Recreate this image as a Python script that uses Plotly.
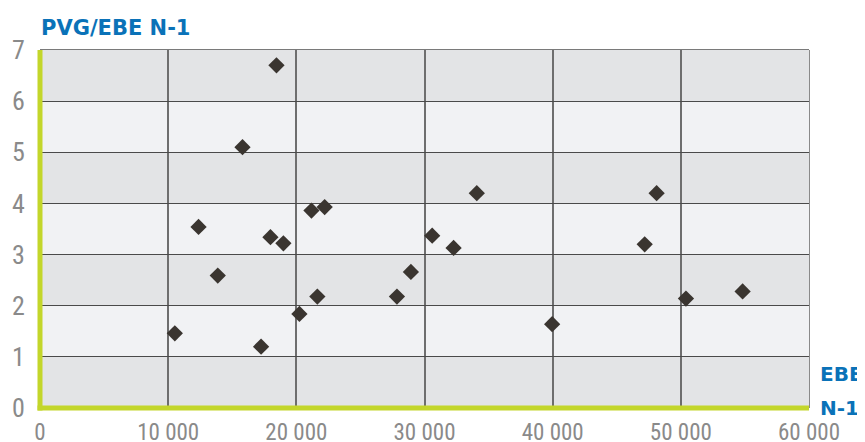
import plotly.graph_objects as go

ebe = [15800, 18450, 21180, 22210, 12370, 17980, 18990, 13870, 21640, 20240,
       10520, 17250, 34080, 30600, 32270, 28940, 27850, 39960, 48110, 47180,
       50400, 54820]
pvg_ebe = [5.10, 6.70, 3.86, 3.93, 3.54, 3.34, 3.22, 2.59, 2.18, 1.84,
           1.46, 1.20, 4.20, 3.37, 3.13, 2.66, 2.18, 1.64, 4.20, 3.20,
           2.14, 2.28]

x_ticks = [0, 10000, 20000, 30000, 40000, 50000, 60000]
y_ticks = [0, 1, 2, 3, 4, 5, 6, 7]

BLUE = "#0a72b8"
GREEN = "#c3d62b"
TICK = "#8a8a8a"
FONT = "Roboto Condensed, Liberation Sans Narrow, DejaVu Sans Condensed, sans-serif"
TFONT = "DejaVu Sans, Liberation Sans, Arial, sans-serif"

W, H = 857, 434
ML, MR, MT, MB = 32, 56, 42, 34
PW, PH = W - ML - MR, H - MT - MB

fig = go.Figure()
fig.add_trace(go.Scatter(
    x=ebe, y=pvg_ebe, mode="markers",
    marker=dict(symbol="diamond", size=12.5, color="#3a3530"),
    hoverinfo="x+y", showlegend=False,
))

x0, x1 = x_ticks[0], x_ticks[-1]
y0, y1 = y_ticks[0], y_ticks[-1]
shapes = []
for i in range(len(y_ticks) - 1):
    shapes.append(dict(
        type="rect", xref="x", yref="y", layer="below",
        x0=x0, x1=x1, y0=y_ticks[i], y1=y_ticks[i + 1],
        fillcolor="#e3e4e6" if i % 2 == 0 else "#f1f2f4", line=dict(width=0),
    ))
# top and right borders
shapes.append(dict(type="line", xref="paper", yref="paper", layer="between",
                   x0=0, x1=1, y0=1, y1=1,
                   line=dict(color="#7a7a7a", width=2)))
shapes.append(dict(type="line", xref="paper", yref="paper", layer="between",
                   x0=1, x1=1, y0=0, y1=1,
                   line=dict(color="#8a8a8a", width=2)))
# green axis lines (centred on the axes, not clipped)
ex, ey = 2.5 / PW, 2.5 / PH
shapes.append(dict(type="line", xref="paper", yref="paper", layer="above",
                   x0=0, x1=0, y0=-ey, y1=1,
                   line=dict(color=GREEN, width=5)))
shapes.append(dict(type="line", xref="paper", yref="paper", layer="above",
                   x0=-ex, x1=1, y0=0, y1=0,
                   line=dict(color=GREEN, width=5)))

fig.update_layout(
    width=W, height=H,
    margin=dict(l=ML, r=MR, t=MT, b=MB),
    paper_bgcolor="white", plot_bgcolor="rgba(0,0,0,0)",
    separators=", ",
    shapes=shapes,
    xaxis=dict(
        range=[x0, x1], tickvals=x_ticks, tickformat=",d",
        showgrid=True, gridcolor="#6e6e6e", gridwidth=1.5,
        zeroline=False, showline=False,
        ticks="outside", ticklen=3, tickcolor="rgba(0,0,0,0)",
        automargin=False,
        tickfont=dict(family=FONT, size=23, color=TICK),
    ),
    yaxis=dict(
        range=[y0, y1], tickvals=y_ticks,
        showgrid=True, gridcolor="#4a4a4a", gridwidth=1.3,
        zeroline=False, showline=False,
        ticks="outside", ticklen=9, tickcolor="rgba(0,0,0,0)",
        automargin=False,
        tickfont=dict(family=FONT, size=26, color=TICK),
    ),
    annotations=[
        dict(text="<b>PVG/EBE N-1</b>", xref="paper", yref="paper",
             x=0, y=1, xanchor="left", yanchor="middle", yshift=22, xshift=-1,
             showarrow=False, font=dict(family=TFONT, size=21, color=BLUE)),
        dict(text="<b>EBE</b>", xref="paper", yref="paper",
             x=1, y=0, xanchor="left", yanchor="middle", xshift=9, yshift=34,
             showarrow=False, font=dict(family=TFONT, size=20, color=BLUE)),
        dict(text="<b>N-1</b>", xref="paper", yref="paper",
             x=1, y=0, xanchor="left", yanchor="middle", xshift=9, yshift=0,
             showarrow=False, font=dict(family=TFONT, size=20, color=BLUE)),
    ],
)

fig.write_html("out.html")
